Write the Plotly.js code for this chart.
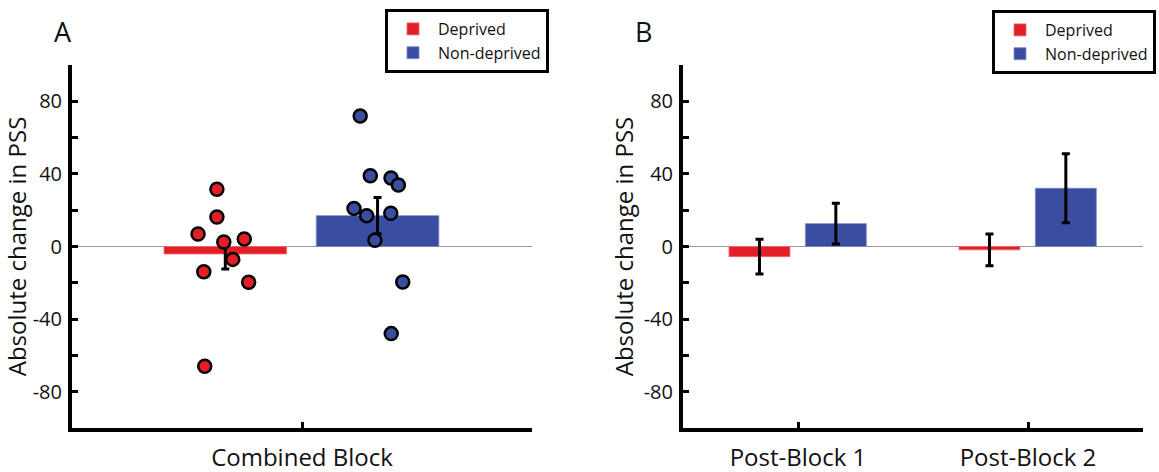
<!DOCTYPE html>
<html>
<head>
<meta charset="utf-8">
<script src="https://cdn.plot.ly/plotly-3.0.1.min.js"></script>
<style>html,body{margin:0;padding:0;background:#fff;}#chart{width:1159px;height:472px;}</style>
</head>
<body>
<div id="chart"></div>
<script>
// ---- Data ----
const groups = ["Deprived", "Non-deprived"];
const panelACategory = ["Combined Block"];
const combinedMean = [-4.1, 17.0];
const combinedErr = [8.3, 10.0];
const deprivedPoints = [31.5, 16.3, 6.9, 2.5, 4.1, -7.1, -13.9, -19.7, -66.0];
const deprivedJitter = [-0.370, -0.370, -0.452, -0.340, -0.251, -0.301, -0.427, -0.232, -0.423];
const nonDeprivedPoints = [71.9, 39.0, 37.7, 33.9, 21.0, 17.0, 18.3, 3.4, -19.6, -48.0];
const nonDeprivedJitter = [0.253, 0.297, 0.387, 0.419, 0.226, 0.281, 0.386, 0.317, 0.438, 0.388];
const panelBCategories = ["Post-Block 1", "Post-Block 2"];
const deprivedBlockMean = [-5.6, -1.85];
const deprivedBlockErr = [9.6, 8.75];
const nonDeprivedBlockMean = [12.6, 32.1];
const nonDeprivedBlockErr = [11.2, 19.0];
const yTickVals = [-100, -80, -60, -40, -20, 0, 20, 40, 60, 80, 100];
const yTickText = ["", "-80", "", "-40", "", "0", "", "40", "", "80", ""];
const yTitle = "Absolute change in PSS";
const panelLabels = ["A", "B"];

// ---- Style ----
const RED = "#E31E26";
const BLUE = "#3A4DA1";
const FONT = "Open Sans, sans-serif";
const W = 1159, H = 472;

const errStyle = (v) => ({type: "data", array: v, visible: true, color: "#000", thickness: 3, width: 4});

const traces = [
  {type: "bar", x: [0], y: [combinedMean[0]], name: groups[0], width: 0.533, offset: -0.6,
   marker: {color: RED, line: {color: "#ee6b70", width: 0.8}}, error_y: errStyle([combinedErr[0]]),
   xaxis: "x", yaxis: "y", legend: "legend", hoverinfo: "y"},
  {type: "bar", x: [0], y: [combinedMean[1]], name: groups[1], width: 0.533, offset: 0.062,
   marker: {color: BLUE, line: {color: "#7d8cc8", width: 0.8}}, error_y: errStyle([combinedErr[1]]),
   xaxis: "x", yaxis: "y", legend: "legend", hoverinfo: "y"},
  {type: "scatter", mode: "markers", x: deprivedJitter, y: deprivedPoints, showlegend: false,
   marker: {color: RED, size: 13, line: {color: "#000", width: 2.5}}, xaxis: "x", yaxis: "y", hoverinfo: "y"},
  {type: "scatter", mode: "markers", x: nonDeprivedJitter, y: nonDeprivedPoints, showlegend: false,
   marker: {color: BLUE, size: 13, line: {color: "#000", width: 2.5}}, xaxis: "x", yaxis: "y", hoverinfo: "y"},
  {type: "bar", x: panelBCategories, y: deprivedBlockMean, name: groups[0], width: 0.265, offset: -0.3,
   marker: {color: RED, line: {color: "#ee6b70", width: 0.8}}, error_y: errStyle(deprivedBlockErr),
   xaxis: "x2", yaxis: "y2", legend: "legend2", hoverinfo: "y"},
  {type: "bar", x: panelBCategories, y: nonDeprivedBlockMean, name: groups[1], width: 0.265, offset: 0.032,
   marker: {color: BLUE, line: {color: "#7d8cc8", width: 0.8}}, error_y: errStyle(nonDeprivedBlockErr),
   xaxis: "x2", yaxis: "y2", legend: "legend2", hoverinfo: "y"}
];

const yDom = [(H - 428) / H, (H - 65) / H];
const yAxisCommon = {
  range: [-100, 100], tickmode: "array", tickvals: yTickVals, ticktext: yTickText,
  ticks: "inside", ticklen: 6, tickwidth: 3, tickcolor: "#000",
  showline: true, linewidth: 4, linecolor: "#000", showgrid: false,
  zeroline: true, zerolinecolor: "#9a9a9a", zerolinewidth: 1.5,
  tickfont: {family: FONT, size: 20, color: "#111"},
  title: {text: yTitle, font: {family: FONT, size: 24, color: "#111"}, standoff: 4},
  automargin: false, fixedrange: true, domain: yDom, ticklabelstandoff: 2
};
const xAxisCommon = {
  ticks: "inside", ticklen: 6, tickwidth: 3, tickcolor: "#000",
  showline: true, linewidth: 4, linecolor: "#000", showgrid: false, zeroline: false,
  tickfont: {family: FONT, size: 24, color: "#111"}, automargin: false, fixedrange: true,
  ticklabelstandoff: 5
};

const legendCommon = {
  bgcolor: "#fff", bordercolor: "#000", borderwidth: 3,
  font: {family: FONT, size: 16, color: "#111"},
  xanchor: "left", yanchor: "top", tracegroupgap: 0, itemwidth: 40,
  traceorder: "normal"
};

const layout = {
  width: W, height: H,
  margin: {l: 0, r: 0, t: 0, b: 0},
  paper_bgcolor: "#fff", plot_bgcolor: "#fff",
  showlegend: true,
  barmode: "overlay",
  xaxis: Object.assign({}, xAxisCommon, {
    domain: [72 / W, 532 / W], range: [-1, 1], tickmode: "array", tickvals: [0], ticktext: panelACategory,
    anchor: "y"
  }),
  yaxis: Object.assign({}, yAxisCommon, {anchor: "x"}),
  xaxis2: Object.assign({}, xAxisCommon, {
    domain: [683 / W, 1143 / W], range: [-0.5, 1.5], type: "category", categoryorder: "array",
    categoryarray: panelBCategories, anchor: "y2"
  }),
  yaxis2: Object.assign({}, yAxisCommon, {anchor: "x2"}),
  legend: Object.assign({}, legendCommon, {x: 385 / W, y: (H - 9) / H}),
  legend2: Object.assign({}, legendCommon, {x: 992 / W, y: (H - 10) / H}),
  annotations: [
    {text: panelLabels[0], xref: "paper", yref: "paper", x: 63 / W, y: (H - 31) / H, showarrow: false,
     xanchor: "center", yanchor: "middle", font: {family: FONT, size: 27, color: "#111"}},
    {text: panelLabels[1], xref: "paper", yref: "paper", x: 643 / W, y: (H - 31) / H, showarrow: false,
     xanchor: "center", yanchor: "middle", font: {family: FONT, size: 27, color: "#111"}}
  ]
};

Plotly.newPlot("chart", traces, layout, {displayModeBar: false, staticPlot: true});
</script>
</body>
</html>
